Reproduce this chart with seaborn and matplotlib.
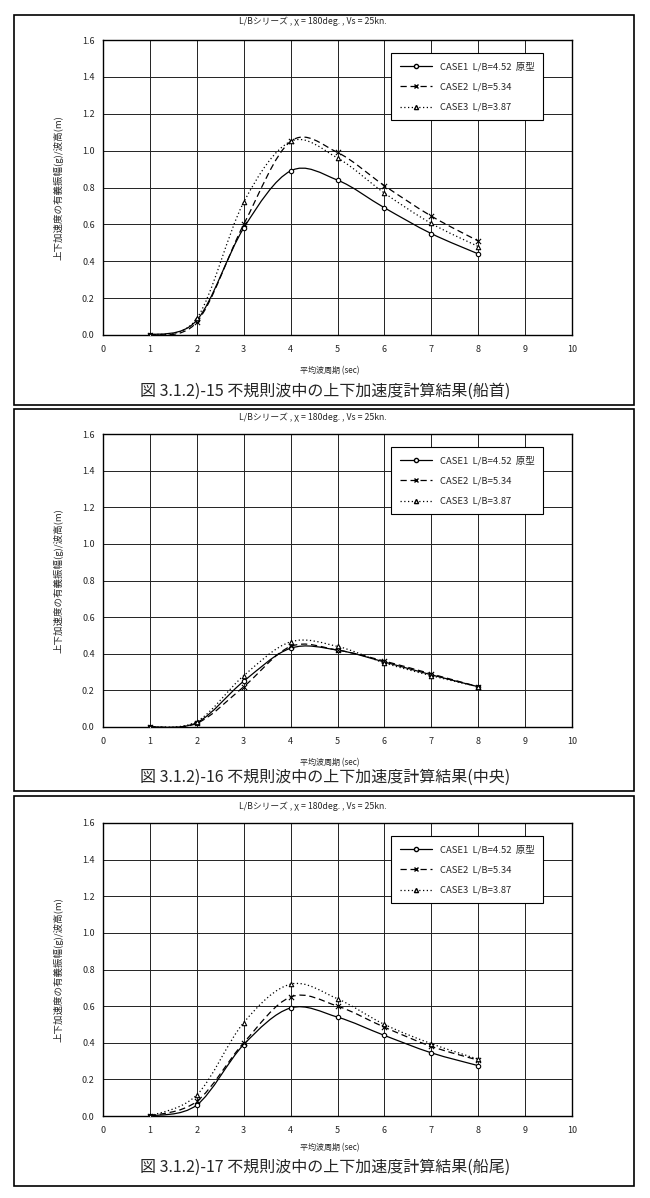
import numpy as np
import pandas as pd
import seaborn as sns
import matplotlib.pyplot as plt
from matplotlib.path import Path
from matplotlib.patches import PathPatch, Rectangle
from matplotlib.lines import Line2D

# data (bow / midship / stern)
period = [1, 2, 3, 4, 5, 6, 7, 8]

bow_case1 = [0.0, 0.08, 0.58, 0.89, 0.84, 0.69, 0.55, 0.44]
bow_case2 = [0.0, 0.07, 0.60, 1.05, 0.99, 0.81, 0.645, 0.51]
bow_case3 = [0.0, 0.09, 0.72, 1.05, 0.96, 0.77, 0.605, 0.48]

mid_case1 = [0.0, 0.024, 0.25, 0.43, 0.42, 0.355, 0.285, 0.22]
mid_case2 = [0.0, 0.02, 0.22, 0.44, 0.42, 0.36, 0.29, 0.22]
mid_case3 = [0.0, 0.03, 0.28, 0.465, 0.44, 0.35, 0.28, 0.22]

stern_case1 = [0.0, 0.06, 0.39, 0.59, 0.54, 0.44, 0.345, 0.275]
stern_case2 = [0.0, 0.08, 0.40, 0.65, 0.60, 0.485, 0.38, 0.305]
stern_case3 = [0.0, 0.115, 0.51, 0.72, 0.64, 0.50, 0.395, 0.31]

case_labels = ['CASE1  L/B=4.52  原型', 'CASE2  L/B=5.34', 'CASE3  L/B=3.87']
title = 'L/Bシリーズ , χ = 180deg. , Vs = 25kn.'
xlabel = '平均波周期 (sec)'
ylabel = '上下加速度の有義振幅(g)/波高(m)'
captions = ['図 3.1.2)-15 不規則波中の上下加速度計算結果(船首)',
            '図 3.1.2)-16 不規則波中の上下加速度計算結果(中央)',
            '図 3.1.2)-17 不規則波中の上下加速度計算結果(船尾)']

sns.set_style('white')
plt.rcParams['font.family'] = ['Noto Sans CJK JP', 'DejaVu Sans']

W, H = 650, 1198
fig = plt.figure(figsize=(W / 100, H / 100), dpi=100)

styles = [dict(ls='-', marker='o'), dict(ls=(0, (5, 3)), marker='x'), dict(ls=(0, (1, 2)), marker='^')]


def smooth_path(xs, ys):
    # catmull-rom curve written as cubic bezier segments
    p = np.column_stack([xs, ys]).astype(float)
    p = np.vstack([p[0], p, p[-1]])
    verts = [p[1]]
    codes = [Path.MOVETO]
    for i in range(1, len(p) - 2):
        c1 = p[i] + (p[i + 1] - p[i - 1]) / 6
        c2 = p[i + 1] - (p[i + 2] - p[i]) / 6
        verts += [c1, c2, p[i + 1]]
        codes += [Path.CURVE4] * 3
    return Path(verts, codes)


def px_axes(l, t, r, b):
    return fig.add_axes([l / W, 1 - b / H, (r - l) / W, (b - t) / H])


panels = [
    dict(frame=(14, 15, 634, 405), top=40, bottom=335, data=[bow_case1, bow_case2, bow_case3],
         title_y=21, xl_y=371, cap_y=391),
    dict(frame=(14, 409, 634, 791), top=434, bottom=727, data=[mid_case1, mid_case2, mid_case3],
         title_y=417, xl_y=763, cap_y=777),
    dict(frame=(14, 796, 634, 1186), top=823, bottom=1116, data=[stern_case1, stern_case2, stern_case3],
         title_y=806, xl_y=1148, cap_y=1167),
]

for k, pn in enumerate(panels):
    l, t, r, b = pn['frame']
    fig.patches.append(Rectangle((l / W, 1 - b / H), (r - l) / W, (b - t) / H, transform=fig.transFigure,
                                 fill=False, ec='black', lw=1.2))
    ax = px_axes(103, pn['top'], 572, pn['bottom'])
    handles = []
    for vals, st, lab in zip(pn['data'], styles, case_labels):
        df = pd.DataFrame({'x': period, 'y': vals})
        ax.add_patch(PathPatch(smooth_path(df.x, df.y), fill=False, ec='black', lw=0.9, ls=st['ls']))
        if st['marker'] == 'x':
            sns.scatterplot(data=df, x='x', y='y', marker='x', s=14, color='black', linewidth=0.8, ax=ax, zorder=3)
        else:
            sns.scatterplot(data=df, x='x', y='y', marker=st['marker'], s=10, facecolor='white',
                            edgecolor='black', linewidth=0.8, ax=ax, zorder=3)
        handles.append(Line2D([], [], color='black', lw=0.9, ls=st['ls'], marker=st['marker'], ms=3,
                              mfc='white', mec='black', label=lab))
    ax.set_xlim(0, 10)
    ax.set_ylim(0, 1.6)
    ax.set_xticks(range(0, 11))
    ax.set_yticks(np.arange(0, 1.61, 0.2))
    ax.set_yticklabels([f'{v:.1f}' for v in np.arange(0, 1.61, 0.2)])
    ax.grid(True, color='#222222', lw=0.7)
    ax.tick_params(length=0, labelsize=6.5)
    ax.tick_params(axis='x', pad=7)
    ax.tick_params(axis='y', pad=6)
    for s in ax.spines.values():
        s.set_color('black')
        s.set_linewidth(1.0)
    ax.set_xlabel('')
    ax.set_ylabel('')
    leg = ax.legend(handles=handles, loc='upper left', bbox_to_anchor=(0.615, 0.955), fontsize=6.8,
                    frameon=True, fancybox=False, edgecolor='black', handlelength=3.4,
                    labelspacing=1.2, borderpad=0.9, borderaxespad=0, framealpha=1)
    leg.get_frame().set_linewidth(0.8)
    fig.text(313 / W, 1 - pn['title_y'] / H, title, ha='center', va='center', fontsize=6.3)
    fig.text(330 / W, 1 - pn['xl_y'] / H, xlabel, ha='center', va='center', fontsize=5.8)
    fig.text(58 / W, 1 - (pn['top'] + pn['bottom']) / 2 / H, ylabel, ha='center', va='center',
             rotation=90, fontsize=6.8)
    fig.text(325 / W, 1 - pn['cap_y'] / H, captions[k], ha='center', va='center', fontsize=11.5)

fig.savefig('out.png', dpi=100)
